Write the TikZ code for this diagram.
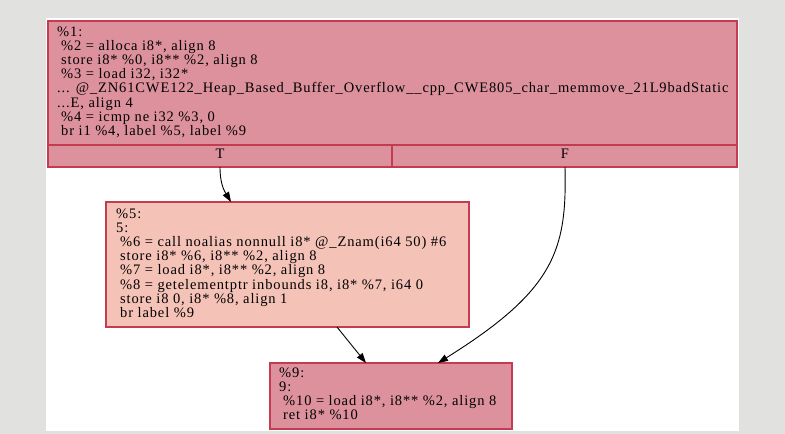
\documentclass[tikz,border=0pt]{standalone}
\usepackage{fontspec}
\usetikzlibrary{arrows.meta}
\newfontfamily\dotfont[LetterSpace=6]{Liberation Serif}
\definecolor{bggray}{RGB}{225,225,223}
\definecolor{pinkfill}{RGB}{221,145,157}
\definecolor{salmonfill}{RGB}{245,194,183}
\definecolor{redline}{RGB}{196,60,82}
\begin{document}
\begin{tikzpicture}[x=1bp,y=-1bp]
\tikzset{
  blk/.style={draw=redline, line width=1.2bp, rectangle, inner sep=0pt, outer sep=0pt, anchor=north west},
  code/.style={font=\dotfont\fontsize{14.5bp}{14.2bp}\selectfont, align=left, inner sep=0pt, anchor=north west, text=black},
  lbl/.style={font=\dotfont\fontsize{14.5bp}{14.2bp}\selectfont, inner sep=0pt, anchor=base, text=black},
  edgeline/.style={-{Triangle[length=10bp,width=7bp]}, line width=0.9bp, black}
}
\useasboundingbox (0,0) rectangle (785,434);
\path[fill=bggray] (0,0) rectangle (785,434);
\path[fill=white] (46,18) rectangle (739,431);

% block %1
\node[blk, fill=pinkfill, minimum width=689bp, minimum height=146bp] (n1) at (48,21) {};
\coordinate (div) at (48,145);
\draw[redline, line width=1.2bp] (div) -- (div -| n1.east);
\coordinate (split) at (392,145);
\draw[redline, line width=1.2bp] (split) -- (split |- n1.south);
\node[lbl] (tl) at (220,159) {T};
\node[lbl] (fl) at (565,159) {F};
\coordinate (tp) at (220,167);
\coordinate (fp) at (565,167);
\node[code] (n1txt) at (57,26) {\rule{0pt}{10bp}\%1:\\
\hspace*{4bp}\%2 = alloca i8*, align 8\\
\hspace*{4bp}store i8* \%0, i8** \%2, align 8\\
\hspace*{4bp}\%3 = load i32, i32*\\
... @\_ZN61CWE122\_Heap\_Based\_Buffer\_Overflow\_\_cpp\_CWE805\_char\_memmove\_21L9badStatic\\
...E, align 4\\
\hspace*{4bp}\%4 = icmp ne i32 \%3, 0\\
\hspace*{4bp}br i1 \%4, label \%5, label \%9};

% block %5
\node[blk, fill=salmonfill, minimum width=363bp, minimum height=125bp] (n5) at (106,202) {};
\node[code] (n5txt) at (116,208) {\rule{0pt}{10bp}\%5:\\
5:\\
\hspace*{4bp}\%6 = call noalias nonnull i8* @\_Znam(i64 50) \#6\\
\hspace*{4bp}store i8* \%6, i8** \%2, align 8\\
\hspace*{4bp}\%7 = load i8*, i8** \%2, align 8\\
\hspace*{4bp}\%8 = getelementptr inbounds i8, i8* \%7, i64 0\\
\hspace*{4bp}store i8 0, i8* \%8, align 1\\
\hspace*{4bp}br label \%9};

% block %9
\node[blk, fill=pinkfill, minimum width=242bp, minimum height=66bp] (n9) at (270,363) {};
\node[code] (n9txt) at (279,367) {\rule{0pt}{10bp}\%9:\\
9:\\
\hspace*{4bp}\%10 = load i8*, i8** \%2, align 8\\
\hspace*{4bp}ret i8* \%10};

% edges
\draw[edgeline] (tp) .. controls (220,185) and (225,192) .. (n5.north -| 231,0);
\draw[edgeline] (fp) .. controls (567,250) and (555,290) .. (n9.north -| 438,0);
\draw[edgeline] (n5.south -| 337,0) -- (n9.north -| 366,0);
\end{tikzpicture}
\end{document}
